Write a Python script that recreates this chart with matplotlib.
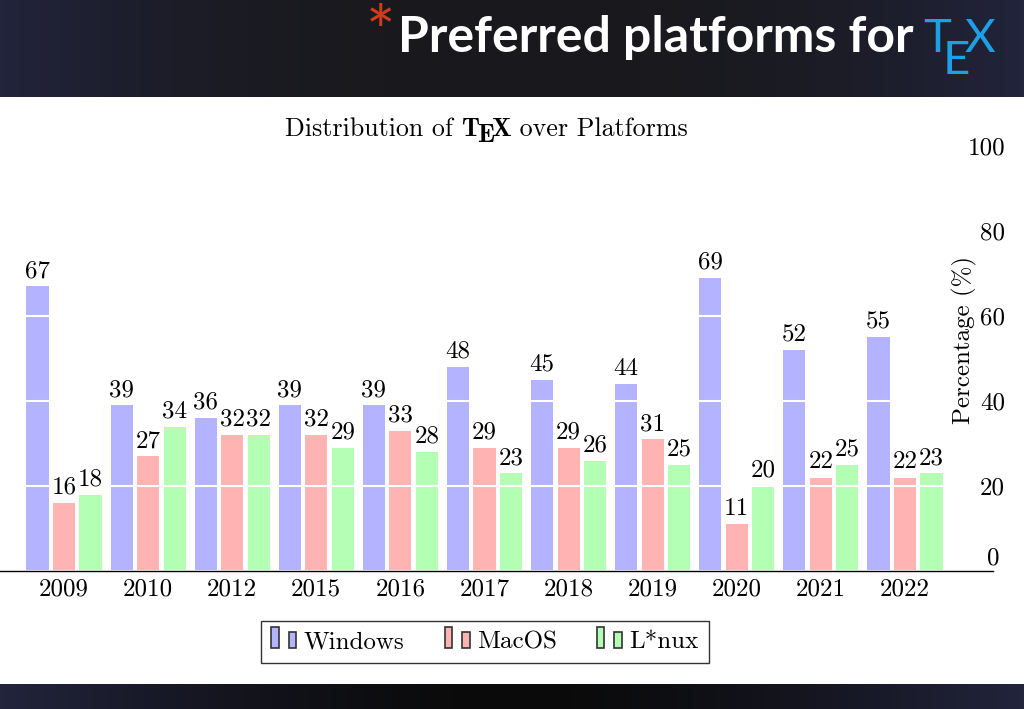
import numpy as np
import matplotlib
matplotlib.use('Agg')
import matplotlib.pyplot as plt
from matplotlib.patches import Rectangle, Patch
from matplotlib.legend_handler import HandlerBase
from matplotlib.transforms import ScaledTranslation

# data
years = ['2009', '2010', '2012', '2015', '2016', '2017', '2018', '2019', '2020', '2021', '2022']
windows = [67, 39, 36, 39, 39, 48, 45, 44, 69, 52, 55]
macos = [16, 27, 32, 32, 33, 29, 29, 31, 11, 22, 22]
linux = [18, 34, 32, 29, 28, 23, 26, 25, 20, 25, 23]
series_names = ['Windows', 'MacOS', 'L*nux']
yticks = [0, 20, 40, 60, 80, 100]

colors = ['#b3b3ff', '#ffb3b3', '#b3ffb3']  # blue!30, red!30, green!30
W, H = 1024, 709
FS = 18


class TwoBarHandler(HandlerBase):
    # pgfplots style ybar legend: two little bars
    def create_artists(self, legend, orig_handle, xdescent, ydescent,
                       width, height, fontsize, trans):
        fc = orig_handle.get_facecolor()
        bw = width * 0.3
        tall = Rectangle((-xdescent, -ydescent), bw, height * 1.2, fc=fc,
                         ec='#333333', lw=1.2, transform=trans)
        short = Rectangle((-xdescent + width - bw, -ydescent), bw, height * 0.92,
                          fc=fc, ec='#333333', lw=1.2, transform=trans)
        return [tall, short]


fig = plt.figure(figsize=(W / 100, H / 100), dpi=100)
fig.patch.set_facecolor('white')

# header and footer bars (navy at the edges, dark in the middle)
grad = np.abs(np.linspace(-1, 1, 256))
edge = np.array([34, 36, 60]) / 255
mid = np.array([25, 25, 29]) / 255
row = mid[None, :] + (edge - mid)[None, :] * grad[:, None] ** 2.5
hdr = fig.add_axes([0, 1 - 97 / H, 1, 97 / H], zorder=-1)
hdr.imshow(row[None, :, :], aspect='auto', extent=(0, 1, 0, 1))
hdr.axis('off')
mid2 = np.array([10, 10, 10]) / 255
row2 = mid2[None, :] + (edge - mid2)[None, :] * grad[:, None] ** 1.5
ftr = fig.add_axes([0, 0, 1, 25 / H], zorder=-1)
ftr.imshow(row2[None, :, :], aspect='auto', extent=(0, 1, 0, 1))
ftr.axis('off')

# main chart
ax = fig.add_axes([0, (H - 571) / H, 993 / W, (571 - 146) / H])
x = np.arange(len(years))
step, bw = 0.315, 0.262
for i, (vals, c) in enumerate(zip([windows, macos, linux], colors)):
    xs = x + (i - 1) * step
    ax.bar(xs, vals, width=bw, color=c, lw=0, zorder=1)
    for xx, v in zip(xs, vals):
        ax.annotate(str(v), (xx, v), xytext=(0, 3), textcoords='offset points',
                    ha='center', va='bottom', fontsize=FS, family='cmr10', zorder=3)

ax.set_xlim(-64 / 84.1, (993 - 64) / 84.1)
ax.set_ylim(0, 100)
ax.set_xticks(x)
ax.set_xticklabels(years, family='cmr10', fontsize=FS)
ax.set_yticks(yticks)
ax.set_yticklabels([str(t) for t in yticks], family='cmr10', fontsize=FS)
ax.yaxis.tick_right()
ax.tick_params(axis='both', length=0)
ax.tick_params(axis='x', pad=5)
ax.tick_params(axis='y', pad=8.6)
plt.setp(ax.get_yticklabels(), ha='right')
ax.yaxis.grid(True, color='white', lw=1.5)
ax.set_axisbelow(False)
for s in ['top', 'left', 'right']:
    ax.spines[s].set_visible(False)
ax.spines['bottom'].set_zorder(4)
ax.spines['bottom'].set_linewidth(1.0)
ax.set_facecolor('none')

# lift the "0" label off the axis line
lab0 = ax.yaxis.get_major_ticks()[0].label2
lab0.set_transform(lab0.get_transform() + ScaledTranslation(-5 / 100, 15 / 100, fig.dpi_scale_trans))

ax.yaxis.set_label_position('right')
ax.set_ylabel('Percentage (%)', family='cmr10', fontsize=FS, va='center')
ax.yaxis.set_label_coords(964 / 993, (571 - 340) / (571 - 146))

# overlay for titles
ov = fig.add_axes([0, 0, 1, 1], zorder=5)
ov.set_xlim(0, 1)
ov.set_ylim(0, 1)
ov.axis('off')

# chart title with TeX logo
TFS = 18.7
t1 = ov.text(285 / W, 1 - 136 / H, 'Distribution of ', family='cmr10', fontsize=TFS,
             ha='left', va='baseline')
tT = ov.annotate('T', xy=(1, 0), xycoords=t1, family='cmb10', fontsize=TFS,
                 ha='left', va='bottom')
tE = ov.annotate('E', xy=(1, 0), xycoords=tT, xytext=(-2, -4), textcoords='offset points',
                 family='cmb10', fontsize=TFS, ha='left', va='bottom')
tX = ov.annotate('X', xy=(1, 0), xycoords=tE, xytext=(-1.5, 4), textcoords='offset points',
                 family='cmb10', fontsize=TFS, ha='left', va='bottom')
ov.annotate(' over Platforms', xy=(1, 0), xycoords=tX, family='cmr10', fontsize=TFS,
            ha='left', va='bottom')

# slide header
HF = 36
TXF = 34
ov.text(366 / W, 1 - 56 / H, '*', family='Lato', fontsize=50, color='#d23c1e',
        ha='left', va='baseline')
h1 = ov.text(398 / W, 1 - 52 / H, 'Preferred platforms for ', family='Lato',
             fontweight='bold', fontsize=HF, color='white', ha='left', va='baseline')
hT = ov.annotate('T', xy=(1, 0), xycoords=h1, xytext=(-2, 0), textcoords='offset points',
                 family='Lato', fontsize=TXF, color='#1ea0e6', ha='left', va='bottom')
hE = ov.annotate('E', xy=(1, 0), xycoords=hT, xytext=(-6, -16), textcoords='offset points',
                 family='Lato', fontsize=TXF, color='#1ea0e6', ha='left', va='bottom')
ov.annotate('X', xy=(1, 0), xycoords=hE, xytext=(-4, 16), textcoords='offset points',
            family='Lato', fontsize=TXF, color='#1ea0e6', ha='left', va='bottom')

# legend
handles = [Patch(facecolor=c) for c in colors]
leg = fig.legend(handles, series_names, loc='center', bbox_to_anchor=(485 / W, 1 - 642 / H),
                 ncol=3, handler_map={Patch: TwoBarHandler()}, handlelength=1.0,
                 handletextpad=0.3, columnspacing=1.6, fancybox=False, framealpha=1,
                 edgecolor='#333333', borderpad=0.4,
                 prop={'family': 'cmr10', 'size': FS})
leg.get_frame().set_linewidth(1.0)

fig.savefig('out.png', dpi=100)
